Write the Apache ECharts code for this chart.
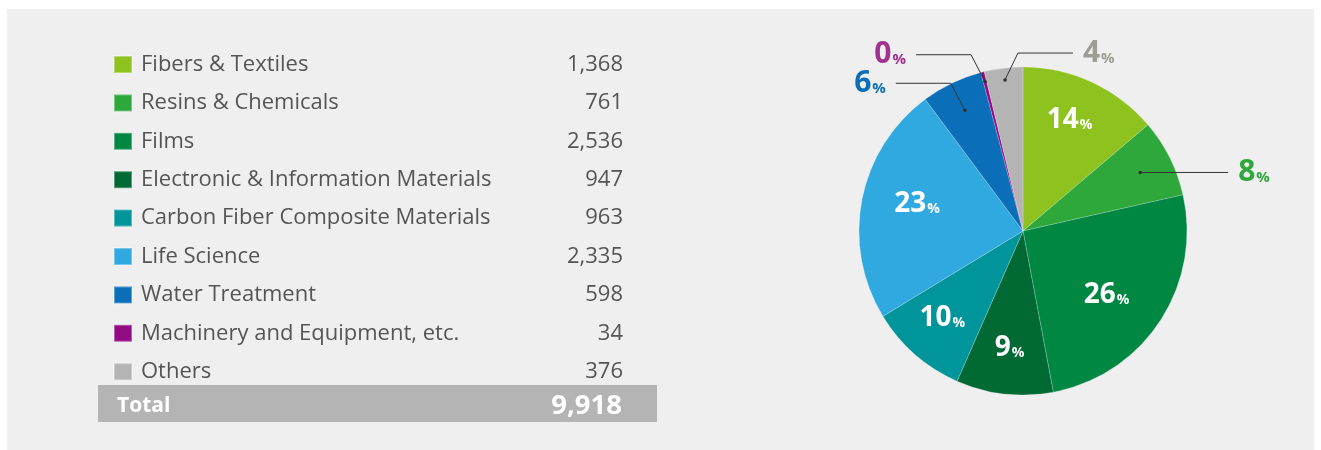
<!DOCTYPE html>
<html><head><meta charset="utf-8">
<script src="https://cdn.jsdelivr.net/npm/echarts@6/dist/echarts.min.js"></script>
<style>html,body{margin:0;padding:0;background:#fff}#c{width:1321px;height:450px}</style>
</head><body><div id="c"></div>
<script>
const categories = ['Fibers & Textiles','Resins & Chemicals','Films','Electronic & Information Materials','Carbon Fiber Composite Materials','Life Science','Water Treatment','Machinery and Equipment, etc.','Others'];
const values = [1368, 761, 2536, 947, 963, 2335, 598, 34, 376];
const percentLabels = [14, 8, 26, 9, 10, 23, 6, 0, 4];
const colors = ['#8dc21f','#2ea83a','#008742','#006934','#00959a','#30a8e0','#0a6fb8','#930b84','#b4b4b4'];
const outsideIndex = [1, 6, 7, 8];
const outsideLabelColors = {1:'#2ea83a', 6:'#0a6fb8', 7:'#a3318f', 8:'#9d9d95'};
const totalLabel = 'Total';

// leader line styling (relative to library-computed anchors)
const leaders = {
  1: {inset: 33, bend: null, run: 88},
  6: {inset: 30, bend: [-14, -27], run: -55},
  7: {inset: 10, bend: [-14, -27], run: -55},
  8: {inset: 12, bend: [13, -27], run: 55}
};
// small nudges of inside labels
const insideNudge = {0: [-3, -4], 2: [-15, -1], 3: [0, 0], 4: [-3, -2], 5: [10, -4]};

const FONT = 'Open Sans';
const total = values.reduce((a, b) => a + b, 0);
const fmt = v => v.toLocaleString('en-US');
const valueByName = {};
categories.forEach((c, i) => valueByName[c] = values[i]);

const center = ['77.44%', '51.33%'];
const R = 164;

function dotPoint(p, s) {
  const a = p.labelLinePoints[0], b = p.labelLinePoints[1];
  const L = Math.hypot(b[0] - a[0], b[1] - a[1]) || 1;
  const ux = (b[0] - a[0]) / L, uy = (b[1] - a[1]) / L;
  return [a[0] - ux * s.inset, a[1] - uy * s.inset];
}

const baseData = categories.map((c, i) => ({name: c, value: values[i]}));

const chart = echarts.init(document.getElementById('c'));
chart.setOption({
  animation: false,
  graphic: [
    {type: 'rect', z: -100, shape: {x: 7, y: 9, width: 1307, height: 441}, style: {fill: '#efefef'}, silent: true},
    {type: 'rect', shape: {x: 98, y: 385, width: 559, height: 37}, style: {fill: '#b4b4b4'}, silent: true},
    {type: 'text', x: 117, y: 406, style: {text: totalLabel, fill: '#fff', font: 'bold 21px "' + FONT + '"', verticalAlign: 'middle', textVerticalAlign: 'middle'}},
    {type: 'text', x: 622, y: 406, style: {text: fmt(total), fill: '#fff', font: 'bold 27.5px "' + FONT + '"', align: 'right', textAlign: 'right', verticalAlign: 'middle', textVerticalAlign: 'middle'}}
  ],
  legend: {
    orient: 'vertical', left: 113, top: 53.5, padding: 0, icon: 'rect', itemWidth: 18, itemHeight: 17, itemGap: 16.4,
    selectedMode: false, data: categories,
    formatter: name => '{n|' + name + '}{v|' + fmt(valueByName[name]) + '}',
    textStyle: {
      fontFamily: FONT, fontSize: 22, color: '#555',
      rich: {
        n: {fontFamily: FONT, fontSize: 22, color: '#555', width: 415, lineHeight: 20, padding: [0, 0, 0, 4]},
        v: {fontFamily: FONT, fontSize: 22, color: '#555', width: 67, align: 'right', lineHeight: 20}
      }
    }
  },
  series: [
    {
      type: 'pie', z: 2, center: center, radius: [0, R], startAngle: 90, clockwise: true,
      label: {show: false}, labelLine: {show: false}, emphasis: {disabled: true},
      itemStyle: {borderColor: 'rgba(255,255,255,0.35)', borderWidth: 0.6},
      data: baseData.map((d, i) => ({...d, itemStyle: {color: colors[i]}}))
    },
    {
      type: 'pie', z: 4, center: center, radius: [66, R], silent: true, emphasis: {disabled: true},
      itemStyle: {color: 'rgba(0,0,0,0)'},
      label: {
        show: true, position: 'inside',
        formatter: p => '{n|' + percentLabels[p.dataIndex] + '}{p|%}',
        rich: {
          n: {fontFamily: FONT, fontWeight: 'bold', fontSize: 28, color: '#fff', verticalAlign: 'bottom'},
          p: {fontFamily: FONT, fontWeight: 'bold', fontSize: 14, color: '#fff', verticalAlign: 'bottom', padding: [0, 0, 2, 1]}
        }
      },
      labelLayout: function (p) {
        const n = insideNudge[p.dataIndex];
        return n ? {dx: n[0], dy: n[1]} : {};
      },
      labelLine: {show: false},
      data: baseData.map((d, i) => ({...d, label: {show: outsideIndex.indexOf(i) < 0}}))
    },
    {
      type: 'pie', z: 4, center: center, radius: [0, R], silent: true, emphasis: {disabled: true}, avoidLabelOverlap: false,
      itemStyle: {color: 'rgba(0,0,0,0)'},
      label: {
        show: true, position: 'outside',
        formatter: p => '{n|' + percentLabels[p.dataIndex] + '}{p|%}'
      },
      labelLine: {show: true, length: 10, length2: 10, lineStyle: {color: '#333', width: 1}},
      labelLayout: function (p) {
        const s = leaders[p.dataIndex];
        if (!s || !p.labelLinePoints) return {};
        const d = dotPoint(p, s);
        const pts = [d];
        let last = d;
        if (s.bend) { last = [d[0] + s.bend[0], d[1] + s.bend[1]]; pts.push(last); }
        const end = [last[0] + s.run, last[1]];
        pts.push(end);
        const right = s.run > 0;
        return {x: end[0] + (right ? 10 : -10), y: end[1], align: right ? 'left' : 'right', verticalAlign: 'middle', labelLinePoints: pts};
      },
      data: baseData.map((d, i) => {
        const show = outsideIndex.indexOf(i) >= 0;
        const col = outsideLabelColors[i] || '#333';
        return {...d, label: {show: show, rich: {
          n: {fontFamily: FONT, fontWeight: 'bold', fontSize: 30, color: col, verticalAlign: 'bottom'},
          p: {fontFamily: FONT, fontWeight: 'bold', fontSize: 15, color: col, verticalAlign: 'bottom', padding: [0, 0, 2, 1]}
        }}, labelLine: {show: show}};
      })
    },
    {
      type: 'pie', z: 5, center: center, radius: [0, R], silent: true, emphasis: {disabled: true}, avoidLabelOverlap: false,
      itemStyle: {color: 'rgba(0,0,0,0)'},
      label: {show: true, position: 'outside', formatter: ' ', fontSize: 1},
      labelLine: {show: true, length: 10, length2: 10, lineStyle: {color: '#333', width: 3.5, cap: 'round'}},
      labelLayout: function (p) {
        const s = leaders[p.dataIndex];
        if (!s || !p.labelLinePoints) return {};
        const d = dotPoint(p, s);
        return {x: d[0], y: d[1], labelLinePoints: [d, [d[0] + 0.2, d[1]]]};
      },
      data: baseData.map((d, i) => {
        const show = outsideIndex.indexOf(i) >= 0;
        return {...d, label: {show: show}, labelLine: {show: show}};
      })
    }
  ]
});
</script></body></html>
